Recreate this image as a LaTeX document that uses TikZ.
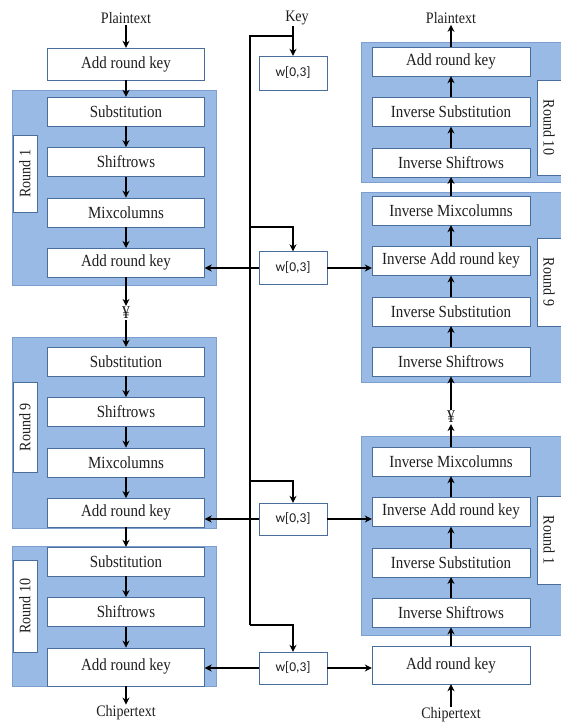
\documentclass[tikz,border=0pt]{standalone}
\usepackage{fontspec}
\setmainfont{Liberation Serif}[FakeStretch=0.88]
\newfontfamily\wfont{Carlito}
\usepackage{xcolor}
\usepackage{tikz}
\usetikzlibrary{arrows.meta, positioning, backgrounds}
\definecolor{panelblue}{HTML}{99BAE4}
\definecolor{paneledge}{HTML}{7C9FCF}
\definecolor{boxedge}{HTML}{4A6E9C}
\definecolor{ink}{HTML}{1E1E1E}
\tikzset{
  stage/.style={rectangle, draw=boxedge, fill=white, text=ink, minimum width=157pt, minimum height=29pt, inner sep=0pt, font=\fontsize{17}{19}\selectfont},
  wbox/.style={rectangle, draw=boxedge, fill=white, text=ink, minimum width=68pt, minimum height=33pt, inner sep=0pt, font=\wfont\fontsize{13.5}{15}\selectfont},
  roundtag/.style={rectangle, draw=boxedge, fill=white, text=ink, minimum height=24pt, inner sep=0pt, font=\fontsize{16}{18}\selectfont},
  panel/.style={rectangle, draw=paneledge, fill=panelblue, inner sep=0pt},
  iotext/.style={text=ink, inner sep=1pt, font=\fontsize{16}{18}\selectfont},
  yen/.style={text=ink, inner sep=1pt, font=\fontsize{18}{19}\selectfont},
  arrow/.style={-{Stealth[length=7pt, width=7pt]}, line width=1.8pt, color=black},
  keyline/.style={line width=1.8pt, color=black},
}
\begin{document}
\begin{tikzpicture}[x=1pt, y=-1pt, node distance=21pt]
  \useasboundingbox (0,0) rectangle (561,725);
  % encryption side
  \node[iotext] (pin) at (126,18) {Plaintext};
  \node[stage, minimum height=32pt] (ark0) at (126,64) {Add round key};
  \node[stage] (sub1) at (126,111.5) {Substitution};
  \node[stage, below=of sub1] (shf1) {Shiftrows};
  \node[stage, below=of shf1] (mix1) {Mixcolumns};
  \node[stage, below=of mix1] (ark1) {Add round key};
  \node[roundtag, rotate=90, minimum width=77pt] (tag1) at (25,173.5) {Round 1};
  \node[yen] (yl) at (126,313) {¥};
  \node[stage] (sub9) at (126,361.5) {Substitution};
  \node[stage, below=of sub9] (shf9) {Shiftrows};
  \node[stage, below=of shf9] (mix9) {Mixcolumns};
  \node[stage, below=of mix9] (ark9) {Add round key};
  \node[roundtag, rotate=90, minimum width=90pt] (tag9) at (25,427) {Round 9};
  \node[stage] (sub10) at (126,561.5) {Substitution};
  \node[stage, below=of sub10] (shf10) {Shiftrows};
  \node[stage, below=of shf10, minimum height=38pt] (ark10) {Add round key};
  \node[roundtag, rotate=90, minimum width=92pt] (tag10) at (25,606) {Round 10};
  \node[iotext] (cout) at (126,713) {Chipertext};
  % decryption side
  \node[iotext] (pout) at (451,18) {Plaintext};
  \node[stage, minimum width=158pt] (iark10) at (451,61.5) {Add round key};
  \node[stage, minimum width=158pt, below=of iark10] (isub10) {Inverse Substitution};
  \node[stage, minimum width=158pt, below=of isub10] (ishf10) {Inverse Shiftrows};
  \node[roundtag, rotate=-90, minimum width=95pt] (itag10) at (549,127.5) {Round 10};
  \node[stage, minimum width=158pt] (imix9) at (451,210.5) {Inverse Mixcolumns};
  \node[stage, minimum width=158pt, below=of imix9] (iark9) {Inverse Add round key};
  \node[stage, minimum width=158pt, below=of iark9] (isub9) {Inverse Substitution};
  \node[stage, minimum width=158pt, below=of isub9] (ishf9) {Inverse Shiftrows};
  \node[roundtag, rotate=-90, minimum width=88pt] (itag9) at (549,282) {Round 9};
  \node[yen] (yr) at (451,417) {¥};
  \node[stage, minimum width=158pt] (imix1) at (451,461.5) {Inverse Mixcolumns};
  \node[stage, minimum width=158pt, below=of imix1] (iark1) {Inverse Add round key};
  \node[stage, minimum width=158pt, below=of iark1] (isub1) {Inverse Substitution};
  \node[stage, minimum width=158pt, below=of isub1] (ishf1) {Inverse Shiftrows};
  \node[roundtag, rotate=-90, minimum width=88pt] (itag1) at (549,540) {Round 1};
  \node[stage, minimum width=158pt, minimum height=38pt] (iark0) at (451,665) {Add round key};
  \node[iotext] (cin) at (451,715) {Chipertext};
  % key schedule
  \node[iotext] (key) at (297,18) {Key};
  \node[wbox, minimum height=34pt] (w1) at (293,73) {w[0,3]};
  \node[wbox] (w2) at (293,268) {w[0,3]};
  \node[wbox, minimum height=32pt] (w3) at (293,519) {w[0,3]};
  \node[wbox, minimum height=32pt] (w4) at (293,668) {w[0,3]};
  \coordinate (ktop) at (250,36);
  \coordinate (b2) at (250,227);
  \coordinate (b3) at (250,481);
  \coordinate (kbot) at (250,625);
  \begin{scope}[on background layer]
    \node[panel, minimum width=204pt, minimum height=195pt] (p1) at (114,187.5) {};
    \node[panel, minimum width=204pt, minimum height=191pt] (p9) at (114,432.5) {};
    \node[panel, minimum width=204pt, minimum height=140pt] (p10) at (114,616) {};
    \node[panel, minimum width=201pt, minimum height=140pt] (ip10) at (461.5,112) {};
    \node[panel, minimum width=201pt, minimum height=190pt] (ip9) at (461.5,287) {};
    \node[panel, minimum width=201pt, minimum height=199pt] (ip1) at (461.5,535.5) {};
  \end{scope}
  \draw[arrow] (pin) -- (ark0);
  \draw[arrow] (ark0) -- (sub1);
  \draw[arrow] (sub1) -- (shf1);
  \draw[arrow] (shf1) -- (mix1);
  \draw[arrow] (mix1) -- (ark1);
  \draw[arrow] (ark1) -- (yl);
  \draw[arrow] (yl) -- (sub9);
  \draw[arrow] (sub9) -- (shf9);
  \draw[arrow] (shf9) -- (mix9);
  \draw[arrow] (mix9) -- (ark9);
  \draw[arrow] (ark9) -- (sub10);
  \draw[arrow] (sub10) -- (shf10);
  \draw[arrow] (shf10) -- (ark10);
  \draw[arrow] (ark10) -- (cout);
  \draw[arrow] (cin) -- (iark0);
  \draw[arrow] (iark0) -- (ishf1);
  \draw[arrow] (ishf1) -- (isub1);
  \draw[arrow] (isub1) -- (iark1);
  \draw[arrow] (iark1) -- (imix1);
  \draw[arrow] (imix1) -- (yr);
  \draw[arrow] (yr) -- (ishf9);
  \draw[arrow] (ishf9) -- (isub9);
  \draw[arrow] (isub9) -- (iark9);
  \draw[arrow] (iark9) -- (imix9);
  \draw[arrow] (imix9) -- (ishf10);
  \draw[arrow] (ishf10) -- (isub10);
  \draw[arrow] (isub10) -- (iark10);
  \draw[arrow] (iark10) -- (pout);
  \draw[arrow] (w1.north |- key.south) -- (w1.north);
  \draw[keyline] (w1.north |- ktop) -- (ktop) -- (kbot);
  \draw[arrow] (b2) -| (w2.north);
  \draw[arrow] (b3) -| (w3.north);
  \draw[arrow] (kbot) -| (w4.north);
  \draw[arrow] (w2.west) -- (w2.west -| ark1.east);
  \draw[arrow] (w2.east) -- (w2.east -| iark9.west);
  \draw[arrow] (w3.west) -- (w3.west -| ark9.east);
  \draw[arrow] (w3.east) -- (w3.east -| iark1.west);
  \draw[arrow] (w4.west) -- (w4.west -| ark10.east);
  \draw[arrow] (w4.east) -- (w4.east -| iark0.west);
\end{tikzpicture}
\end{document}
